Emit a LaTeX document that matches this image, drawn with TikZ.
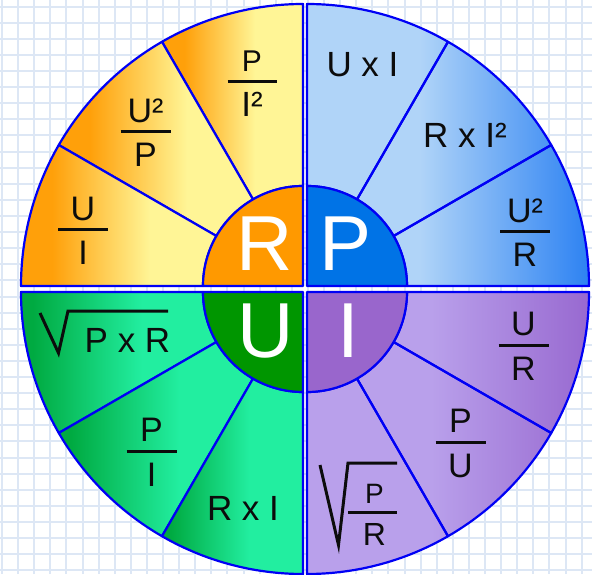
\documentclass[tikz,border=0pt]{standalone}
\usepackage{fontspec}
\setmainfont{Liberation Sans}
\definecolor{bord}{RGB}{0,0,245}
\definecolor{gridc}{RGB}{221,231,245}
\definecolor{txt}{RGB}{12,12,12}
\definecolor{oran}{RGB}{255,160,10}
\definecolor{yell}{RGB}{255,245,150}
\definecolor{Rdisk}{RGB}{255,153,0}
\definecolor{lblue}{RGB}{176,212,248}
\definecolor{dblue}{RGB}{45,130,242}
\definecolor{Pdisk}{RGB}{0,115,230}
\definecolor{dgreen}{RGB}{0,170,65}
\definecolor{lgreen}{RGB}{34,238,160}
\definecolor{Udisk}{RGB}{0,150,0}
\definecolor{lpurp}{RGB}{185,160,235}
\definecolor{dpurp}{RGB}{152,105,208}
\definecolor{Idisk}{RGB}{153,102,204}
\pgfdeclarehorizontalshading{shTL}{100bp}{color(0bp)=(oran); color(25bp)=(oran); color(33bp)=(oran); color(58bp)=(yell); color(100bp)=(yell)}
\pgfdeclarehorizontalshading{shTR}{100bp}{color(0bp)=(lblue); color(25bp)=(lblue); color(45bp)=(lblue); color(75bp)=(dblue); color(100bp)=(dblue)}
\pgfdeclarehorizontalshading{shBL}{100bp}{color(0bp)=(dgreen); color(25bp)=(dgreen); color(28bp)=(dgreen); color(56bp)=(lgreen); color(100bp)=(lgreen)}
\pgfdeclarehorizontalshading{shBR}{100bp}{color(0bp)=(lpurp); color(25bp)=(lpurp); color(47bp)=(lpurp); color(75bp)=(dpurp); color(100bp)=(dpurp)}
\tikzset{
  edge/.style={draw=bord, line width=2.2pt, line join=round},
  gridline/.style={draw=gridc, line width=2pt},
  lbl/.style={font=\fontsize{34}{38}\selectfont, text=txt, inner sep=0pt, anchor=base},
  prodlbl/.style={lbl, font=\fontsize{35}{40}\selectfont},
  biglbl/.style={font=\fontsize{78}{80}\selectfont, text=white, inner sep=0pt, anchor=base},
  barline/.style={draw=txt, line width=3pt},
  radline/.style={draw=txt, line width=3pt, line join=miter}
}
\newcommand\annsec[5]{%
  \path[shift={(#1,#2)}, #5]
    (#3:100pt) -- (#3:282pt) arc[start angle=#3, end angle=#4, radius=282pt]
    -- (#4:100pt) arc[start angle=#4, end angle=#3, radius=100pt] -- cycle;}
\newcommand\quarterdisk[5]{%
  \path[shift={(#1,#2)}, fill=#5, edge]
    (0,0) -- (#3:100pt) arc[start angle=#3, end angle=#4, radius=100pt] -- cycle;}
\newcommand\fracpart[5]{% name, x, ybar, num, den
  \node[lbl] (#1n) at (#2,#3+9.5) {#4};
  \draw[barline] (#2-25,#3) -- (#2+25,#3);
  \node[lbl] (#1d) at (#2,#3-35) {#5};}
\begin{document}
\begin{tikzpicture}[x=1pt,y=1pt]
\useasboundingbox (0,0) rectangle (592,574);
\fill[white] (0,0) rectangle (592,574);
\foreach \i in {0,...,36} \draw[gridline] ({2+16.1*\i},0) -- ({2+16.1*\i},574);
\foreach \j in {0,...,35} \draw[gridline] (0,{567.3-16.1*\j}) -- (592,{567.3-16.1*\j});
% top-left (R): one gradient per slice
\annsec{303}{288}{90}{120}{shading=shTL, shade, edge}
\annsec{303}{288}{120}{150}{shading=shTL, shade, edge}
\annsec{303}{288}{150}{180}{shading=shTL, shade, edge}
\quarterdisk{303}{288}{90}{180}{Rdisk}
% top-right (P): one gradient for the quadrant
\annsec{307}{288}{0}{90}{shading=shTR, shade}
\annsec{307}{288}{0}{30}{edge}
\annsec{307}{288}{30}{60}{edge}
\annsec{307}{288}{60}{90}{edge}
\quarterdisk{307}{288}{0}{90}{Pdisk}
% bottom-left (U)
\annsec{303}{282}{180}{210}{shading=shBL, shade, edge}
\annsec{303}{282}{210}{240}{shading=shBL, shade, edge}
\annsec{303}{282}{240}{270}{shading=shBL, shade, edge}
\quarterdisk{303}{282}{180}{270}{Udisk}
% bottom-right (I)
\annsec{307}{282}{270}{360}{shading=shBR, shade}
\annsec{307}{282}{270}{300}{edge}
\annsec{307}{282}{300}{330}{edge}
\annsec{307}{282}{330}{360}{edge}
\quarterdisk{307}{282}{270}{360}{Idisk}
% big letters
\node[biglbl] (R) at (264.5,303) {R};
\node[biglbl] (P) at (346,303) {P};
\node[biglbl] (U) at (265.5,217) {U};
\node[biglbl] (I) at (348,217) {I};
% R formulas
\fracpart{ui}{83}{344}{U}{I}
\fracpart{up}{145.5}{442}{U²}{P}
\node[lbl, font=\fontsize{30}{36}\selectfont] (pin) at (252,502.3) {P};
\draw[barline] (227.5,492.3) -- (276.5,492.3);
\node[lbl, font=\fontsize{35}{38}\selectfont] (pid) at (252,457.3) {I²};
% P formulas
\node[prodlbl] (uxi) at (362.5,497) {U x I};
\node[prodlbl] (rxi2) at (465,426) {R x I²};
\fracpart{ur2}{525}{342}{U²}{R}
% U formulas
\draw[radline] (40,261) -- (58.5,221) -- (68,263) -- (168,263);
\node[prodlbl] (pxr) at (127.5,222) {P x R};
\fracpart{pi}{151.5}{123}{P}{I}
\node[prodlbl] (rxi) at (243,54) {R x I};
% I formulas
\fracpart{ur}{523.5}{229}{U}{R}
\fracpart{pu}{460.5}{132}{P}{U}
\draw[radline] (320,109) -- (338.5,29) -- (348,111) -- (397,111);
\draw[barline] (348,62) -- (397,62);
\node[lbl, font=\fontsize{28}{34}\selectfont] (prn) at (374.5,71) {P};
\node[lbl, font=\fontsize{32}{36}\selectfont] (prd) at (374.5,29) {R};
\end{tikzpicture}
\end{document}
